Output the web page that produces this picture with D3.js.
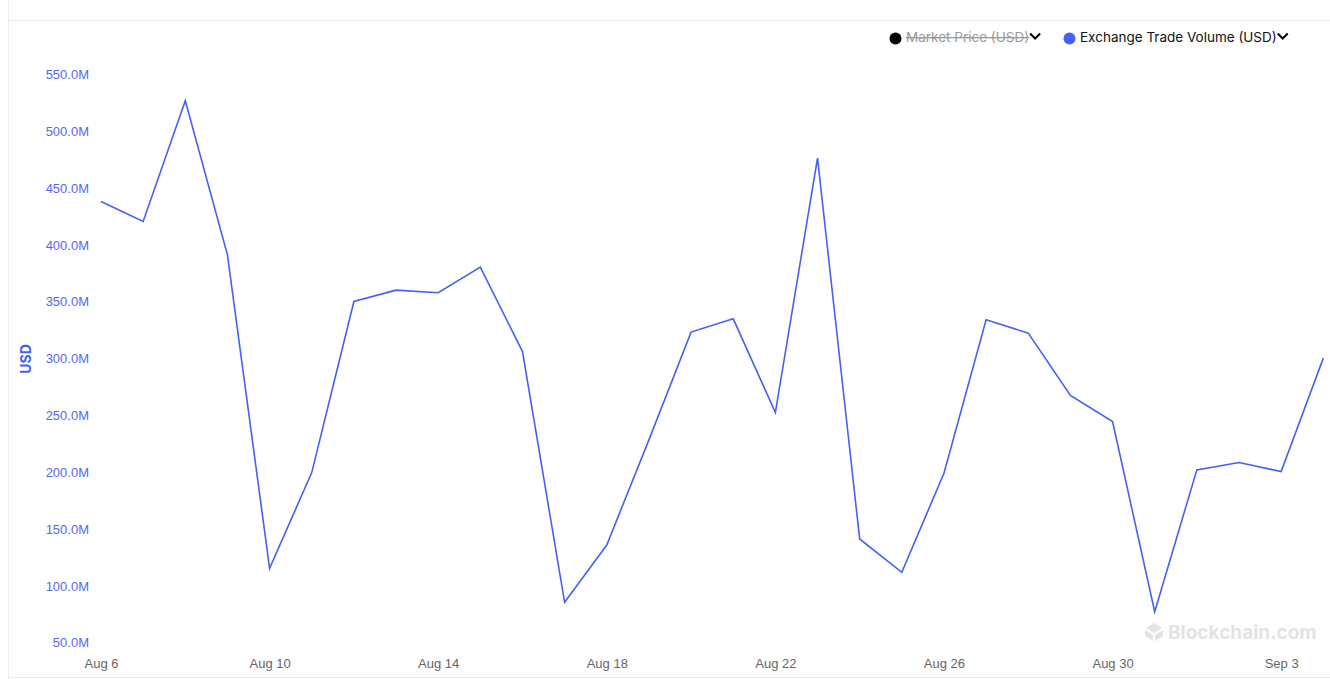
<!DOCTYPE html>
<html>
<head>
<meta charset="utf-8">
<script src="https://cdn.jsdelivr.net/npm/d3@7"></script>
<style>
  html, body { margin: 0; padding: 0; background: #fff; }
  svg { display: block; }
</style>
</head>
<body>
<svg id="chart" width="1330" height="679"></svg>
<script>
// ---- data ----
const dates = ["2023-08-06","2023-08-07","2023-08-08","2023-08-09","2023-08-10","2023-08-11","2023-08-12","2023-08-13","2023-08-14","2023-08-15","2023-08-16","2023-08-17","2023-08-18","2023-08-19","2023-08-20","2023-08-21","2023-08-22","2023-08-23","2023-08-24","2023-08-25","2023-08-26","2023-08-27","2023-08-28","2023-08-29","2023-08-30","2023-08-31","2023-09-01","2023-09-02","2023-09-03","2023-09-04"];
const volumeM = [438.7, 421.1, 527.4, 391.8, 116.0, 200.2, 350.7, 360.7, 358.4, 381.0, 306.7, 86.1, 136.5, 229.0, 323.8, 335.5, 253.0, 476.9, 141.8, 112.5, 199.6, 334.6, 322.9, 268.0, 245.1, 77.8, 202.6, 209.0, 201.1, 300.9];
const yTicks = [50, 100, 150, 200, 250, 300, 350, 400, 450, 500, 550];
const xTickDates = ["2023-08-06","2023-08-10","2023-08-14","2023-08-18","2023-08-22","2023-08-26","2023-08-30","2023-09-03"];
const legendItems = ["Market Price (USD)", "Exchange Trade Volume (USD)"];
const yAxisTitle = "USD";
const watermark = "Blockchain.com";

// ---- setup ----
const parse = d3.utcParse("%Y-%m-%d");
const data = dates.map((d, i) => ({ date: parse(d), v: volumeM[i] }));
const svg = d3.select("#chart");
const blue = "#4461f2";

// frame lines
const frame = svg.append("g").attr("stroke", "#ececec").attr("stroke-width", 1);
frame.append("line").attr("x1", 8.5).attr("x2", 8.5).attr("y1", 0).attr("y2", 679);
frame.append("line").attr("x1", 8).attr("x2", 1330).attr("y1", 20.5).attr("y2", 20.5);
frame.append("line").attr("x1", 8).attr("x2", 1330).attr("y1", 677.5).attr("y2", 677.5);

const x = d3.scaleUtc()
  .domain([parse(dates[0]), parse(dates[dates.length - 1])])
  .range([101, 1323.3]);
const y = d3.scaleLinear().domain([50, 550]).range([643.3, 75]);

// watermark
const wm = svg.append("g").attr("fill", "#e3e3e3");
wm.append("path")
  .attr("d", "M1154,623 L1162,628 L1154,633 L1146,628 Z M1145,630 L1153,635 L1153,641 L1145,636 Z M1163,630 L1155,635 L1155,641 L1163,636 Z");
wm.append("text").attr("x", 1168).attr("y", 639)
  .attr("font-family", "Inter, 'Liberation Sans', sans-serif")
  .attr("font-size", 19).attr("font-weight", 700).text(watermark);

// y axis
const yAxis = svg.append("g").attr("transform", "translate(89,-0.5)")
  .call(d3.axisLeft(y).tickValues(yTicks).tickSize(0).tickPadding(0)
    .tickFormat(d => d.toFixed(1) + "M"));
yAxis.select(".domain").remove();
yAxis.selectAll("text").attr("fill", "#5468f2")
  .attr("font-family", "'Liberation Sans', Arial, sans-serif").attr("font-size", 13);

svg.append("text")
  .attr("transform", "translate(31,359) rotate(-90)")
  .attr("text-anchor", "middle")
  .attr("font-family", "Inter, 'Liberation Sans', sans-serif")
  .attr("font-size", 14).attr("font-weight", 700).attr("fill", blue)
  .text(yAxisTitle);

// x axis
const xAxis = svg.append("g").attr("transform", "translate(0,655)")
  .call(d3.axisBottom(x).tickValues(xTickDates.map(parse)).tickSize(0).tickPadding(4)
    .tickFormat(d3.utcFormat("%b %-d")));
xAxis.select(".domain").remove();
xAxis.selectAll("text").attr("fill", "#666")
  .attr("font-family", "'Liberation Sans', Arial, sans-serif").attr("font-size", 13);

// line
svg.append("path").datum(data)
  .attr("fill", "none").attr("stroke", blue).attr("stroke-width", 1.6)
  .attr("stroke-linejoin", "miter")
  .attr("d", d3.line().x(d => x(d.date)).y(d => y(d.v)));

// legend
const lg = svg.append("g").attr("font-family", "Inter, 'Noto Sans', sans-serif").attr("font-size", 13.5);
function chevron(g, cx) {
  g.append("path").attr("d", `M${cx - 5},${33.5} L${cx},${38.5} L${cx + 5},${33.5}`)
    .attr("fill", "none").attr("stroke", "#000").attr("stroke-width", 2);
}
lg.append("circle").attr("cx", 895.5).attr("cy", 38.5).attr("r", 6).attr("fill", "#000");
const t1 = lg.append("text").attr("x", 906).attr("y", 42).attr("fill", "#9a9a9a")
  .attr("text-decoration", "line-through").text(legendItems[0]);
const w1 = t1.node().getComputedTextLength();
chevron(lg, 906 + w1 + 6);
lg.append("circle").attr("cx", 1069.5).attr("cy", 38.5).attr("r", 6).attr("fill", blue);
const t2 = lg.append("text").attr("x", 1080).attr("y", 42).attr("fill", "#111").text(legendItems[1]);
const w2 = t2.node().getComputedTextLength();
chevron(lg, 1080 + w2 + 6);
</script>
</body>
</html>
